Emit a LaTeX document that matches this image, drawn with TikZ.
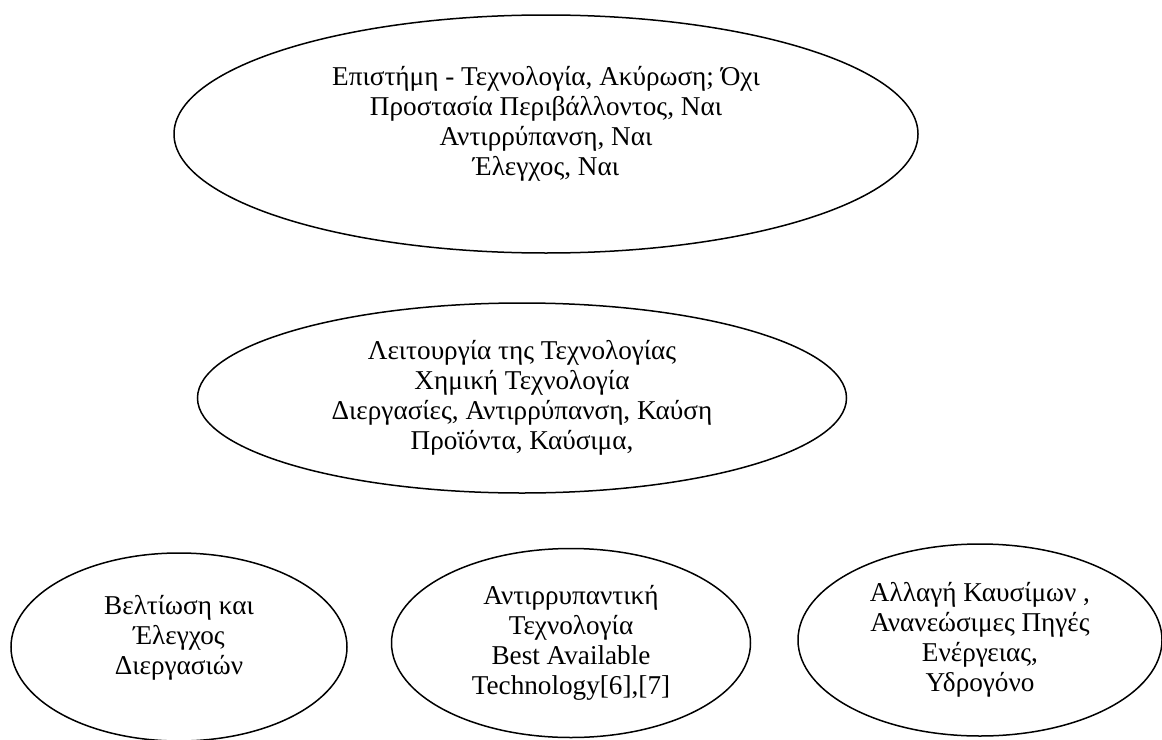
\documentclass[tikz,border=0pt]{standalone}
\usepackage{fontspec}
\setmainfont{Liberation Serif}
\usetikzlibrary{shapes.geometric}

\begin{document}
\begin{tikzpicture}[x=0.5pt,y=-0.5pt,line width=0.75pt,
    bubble/.style={ellipse,draw,inner sep=0pt,align=center,font=\fontsize{13.6}{15}\selectfont}]

  \useasboundingbox (0,0) rectangle (1162,739);

  \node[bubble,minimum width=372pt,minimum height=119pt] (science) at (546,134)
    {Επιστήμη - Τεχνολογία, Ακύρωση; Όχι\\Προστασία Περιβάλλοντος, Ναι\\Αντιρρύπανση, Ναι\\Έλεγχος, Ναι\\[-2pt]};

  \node[bubble,minimum width=324.5pt,minimum height=95pt] (oper) at (522,398)
    {Λειτουργία της Τεχνολογίας\\Χημική Τεχνολογία\\Διεργασίες, Αντιρρύπανση, Καύση\\Προϊόντα, Καύσιμα,};

  \node[bubble,minimum width=168pt,minimum height=94pt] (process) at (179,647)
    {Βελτίωση και\\Έλεγχος\\Διεργασιών\\[-3pt]};

  \node[bubble,minimum width=179.5pt,minimum height=94.5pt] (abate) at (571,643)
    {Αντιρρυπαντική\\Τεχνολογία\\Best Available\\Technology[6],[7]};

  \node[bubble,minimum width=182pt,minimum height=96pt] (fuel) at (980,640)
    {Αλλαγή Καυσίμων ,\\Ανανεώσιμες Πηγές\\Ενέργειας,\\Υδρογόνο};

\end{tikzpicture}
\end{document}
